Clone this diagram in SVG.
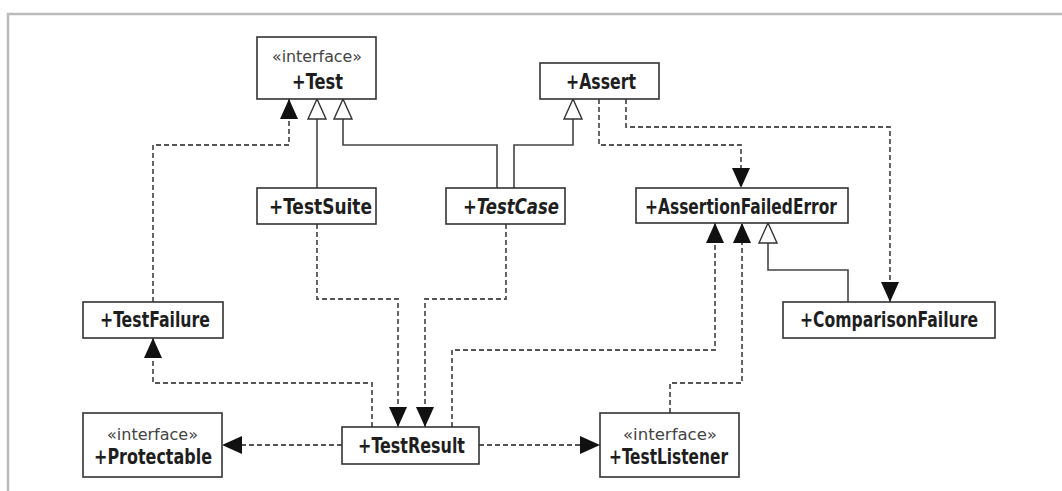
<svg xmlns="http://www.w3.org/2000/svg" width="1062" height="491" viewBox="0 0 1062 491">
<style>
.box{fill:#fff;stroke:#333;stroke-width:1.6}
.name{font-family:"DejaVu Sans Condensed","DejaVu Sans",sans-serif;font-weight:bold;font-size:21px;fill:#1e1e1e}
.ital{font-style:italic}
.st{font-family:"DejaVu Sans Condensed","DejaVu Sans",sans-serif;font-size:16px;fill:#444}
.solid{fill:none;stroke:#444;stroke-width:1.6}
.dash{fill:none;stroke:#555;stroke-width:1.8;stroke-dasharray:5 3}
.frame{fill:none;stroke:#bbb;stroke-width:2.5}
</style>
<defs>
<marker id="filled" viewBox="0 0 20 18" refX="20" refY="9" markerWidth="20" markerHeight="18" markerUnits="userSpaceOnUse" orient="auto">
<path d="M0,0 L20,9 L0,18 z" fill="#111"/>
</marker>
<marker id="hollow" viewBox="-1 -1 22 20" refX="20" refY="9" markerWidth="22" markerHeight="20" markerUnits="userSpaceOnUse" orient="auto">
<path d="M0,0 L20,9 L0,18 z" fill="#fff" stroke="#333" stroke-width="1.4"/>
</marker>
</defs>
<path class="frame" d="M8,491 V14 H1062"/>
<g id="connectors">
<path class="dash" d="M153,302 V145 H289 V99" marker-end="url(#filled)"/>
<path class="solid" d="M317,188 V99" marker-end="url(#hollow)"/>
<path class="solid" d="M497,188 V145 H343 V99" marker-end="url(#hollow)"/>
<path class="solid" d="M514,188 V145 H573 V99" marker-end="url(#hollow)"/>
<path class="dash" d="M599,99 V145 H741 V188" marker-end="url(#filled)"/>
<path class="dash" d="M626,99 V127 H890 V302" marker-end="url(#filled)"/>
<path class="solid" d="M848,302 V270 H768 V223" marker-end="url(#hollow)"/>
<path class="dash" d="M317,224 V299 H398 V427" marker-end="url(#filled)"/>
<path class="dash" d="M506,224 V299 H425 V427" marker-end="url(#filled)"/>
<path class="dash" d="M372,427 V383 H153 V338" marker-end="url(#filled)"/>
<path class="dash" d="M452,427 V350 H715 V223" marker-end="url(#filled)"/>
<path class="dash" d="M670,413 V383 H742 V223" marker-end="url(#filled)"/>
<path class="dash" d="M342,445 H222" marker-end="url(#filled)"/>
<path class="dash" d="M479,445 H600" marker-end="url(#filled)"/>
</g>
<g id="Test">
<rect class="box" x="257" y="37" width="119" height="62"/>
<text class="st" x="272" y="62" textLength="90" lengthAdjust="spacingAndGlyphs">«interface»</text>
<text class="name" x="292" y="89" textLength="51" lengthAdjust="spacingAndGlyphs">+Test</text>
</g>
<g id="Assert">
<rect class="box" x="540" y="63" width="119" height="36"/>
<text class="name" x="566" y="89" textLength="70" lengthAdjust="spacingAndGlyphs">+Assert</text>
</g>
<g id="TestSuite">
<rect class="box" x="257" y="188" width="119" height="36"/>
<text class="name" x="269" y="214" textLength="103" lengthAdjust="spacingAndGlyphs">+TestSuite</text>
</g>
<g id="TestCase">
<rect class="box" x="446" y="188" width="119" height="36"/>
<text class="name ital" x="463" y="214" textLength="96" lengthAdjust="spacingAndGlyphs">+TestCase</text>
</g>
<g id="AssertionFailedError">
<rect class="box" x="636" y="188" width="212" height="35"/>
<text class="name" x="645" y="214" textLength="192" lengthAdjust="spacingAndGlyphs">+AssertionFailedError</text>
</g>
<g id="TestFailure">
<rect class="box" x="83" y="302" width="140" height="36"/>
<text class="name" x="100" y="327" textLength="110" lengthAdjust="spacingAndGlyphs">+TestFailure</text>
</g>
<g id="ComparisonFailure">
<rect class="box" x="783" y="302" width="212" height="36"/>
<text class="name" x="800" y="327" textLength="178" lengthAdjust="spacingAndGlyphs">+ComparisonFailure</text>
</g>
<g id="Protectable">
<rect class="box" x="83" y="413" width="139" height="64"/>
<text class="st" x="107" y="440" textLength="91" lengthAdjust="spacingAndGlyphs">«interface»</text>
<text class="name" x="94" y="464" textLength="118" lengthAdjust="spacingAndGlyphs">+Protectable</text>
</g>
<g id="TestResult">
<rect class="box" x="342" y="427" width="137" height="37"/>
<text class="name" x="358" y="453" textLength="107" lengthAdjust="spacingAndGlyphs">+TestResult</text>
</g>
<g id="TestListener">
<rect class="box" x="600" y="413" width="139" height="64"/>
<text class="st" x="623" y="440" textLength="94" lengthAdjust="spacingAndGlyphs">«interface»</text>
<text class="name" x="609" y="464" textLength="119" lengthAdjust="spacingAndGlyphs">+TestListener</text>
</g>
</svg>
